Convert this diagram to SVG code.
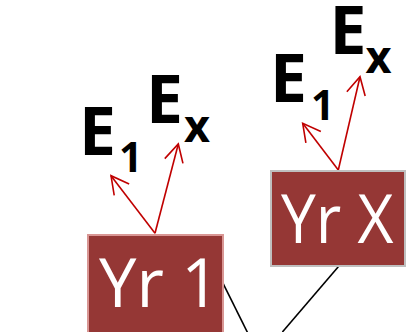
<svg xmlns="http://www.w3.org/2000/svg" width="410" height="332" viewBox="0 0 410 332">
<defs>
<style>
.box1{fill:#953735;stroke:#d99694;stroke-width:2}
.boxx{fill:#953735;stroke:#bfbfbf;stroke-width:2}
.yr{font-family:"Open Sans","Liberation Sans",sans-serif;font-size:67px;fill:#ffffff}
.e{font-family:"Open Sans","Liberation Sans",sans-serif;font-weight:700;font-size:66px;fill:#000000}
.s1{font-size:41px}
.sx{font-size:45px}
.arr{stroke:#c00000;stroke-width:1.6;fill:none;marker-end:url(#ah)}
.conn{stroke:#000000;stroke-width:1.6;fill:none}
</style>
<marker id="ah" markerUnits="userSpaceOnUse" orient="auto" markerWidth="24" markerHeight="24" viewBox="-20 -12 24 24" refX="0" refY="0" overflow="visible">
<path d="M-17.6,-9.4 L0,0 L-17.6,9.4" fill="none" stroke="#c00000" stroke-width="1.6"/>
</marker>
</defs>
<g id="connectors">
<line class="conn" x1="222.7" y1="282.7" x2="247.5" y2="332.5"/>
<line class="conn" x1="338.3" y1="266.7" x2="282.4" y2="332"/>
<line class="arr" x1="155" y1="233.3" x2="111" y2="175.7"/>
<line class="arr" x1="155" y1="233.3" x2="178.3" y2="144"/>
<line class="arr" x1="338.3" y1="170" x2="302.7" y2="123.3"/>
<line class="arr" x1="338.3" y1="170" x2="360" y2="76.7"/>
</g>
<g id="yr1">
<rect class="box1" x="88" y="235" width="135" height="100"/>
<text class="yr" x="99" y="307">Yr 1</text>
</g>
<g id="yrx">
<rect class="boxx" x="271" y="171" width="134" height="95"/>
<text class="yr" x="281" y="243" textLength="112.5" lengthAdjust="spacingAndGlyphs">Yr X</text>
</g>
<g id="yr1-e1">
<text class="e" x="79" y="155">E<tspan class="s1" x="119" y="171.7">1</tspan></text>
</g>
<g id="yr1-ex">
<text class="e" x="146" y="123.3">E<tspan class="sx" x="184" y="141.7">x</tspan></text>
</g>
<g id="yrx-e1">
<text class="e" x="270" y="101.7">E<tspan class="s1" x="311" y="120">1</tspan></text>
</g>
<g id="yrx-ex">
<text class="e" x="329.5" y="54.3">E<tspan class="sx" x="365.5" y="73.3">x</tspan></text>
</g>
</svg>
